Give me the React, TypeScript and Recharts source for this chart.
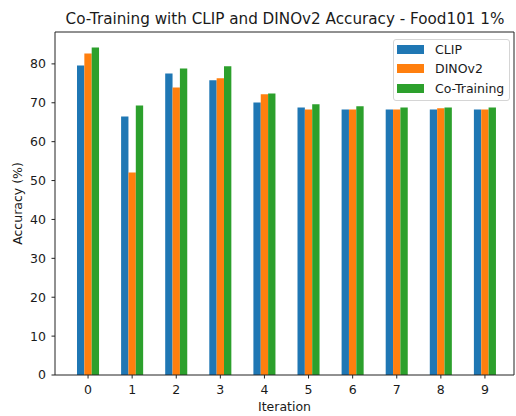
import React from 'react';
import { BarChart, Bar, XAxis, YAxis, Legend } from 'recharts';

const iterations = ['0', '1', '2', '3', '4', '5', '6', '7', '8', '9'];
const clipAcc = [79.6, 66.5, 77.5, 75.8, 70.1, 68.8, 68.3, 68.3, 68.3, 68.3];
const dinoAcc = [82.7, 52.1, 73.9, 76.3, 72.2, 68.3, 68.3, 68.3, 68.6, 68.3];
const coAcc = [84.2, 69.3, 78.8, 79.4, 72.4, 69.6, 69.1, 68.8, 68.8, 68.8];
const yTicks = [0, 10, 20, 30, 40, 50, 60, 70, 80];

const seriesNames = ['CLIP', 'DINOv2', 'Co-Training'];
const seriesColors = ['#1f77b4', '#ff7f0e', '#2ca02c'];

const data = iterations.map((it, i) => ({
  iteration: it,
  CLIP: clipAcc[i],
  DINOv2: dinoAcc[i],
  'Co-Training': coAcc[i],
}));

const FONT = "'DejaVu Sans', sans-serif";
const TEXT = '#1a1a1a';
const AXIS = '#222';

const renderLegend = () => (
  <div
    style={{
      boxSizing: 'border-box',
      width: 117,
      height: 62,
      border: '1px solid #d5d5d5',
      borderRadius: 3,
      background: 'rgba(255,255,255,0.8)',
      fontFamily: FONT,
      fontSize: 12.5,
      color: TEXT,
      paddingTop: 0,
    }}
  >
    {seriesNames.map((n, i) => (
      <div key={n} style={{ height: 19.3, display: 'flex', alignItems: 'center' }}>
        <div style={{ marginLeft: 3, width: 27, height: 9, background: seriesColors[i] }} />
        <span style={{ marginLeft: 11, lineHeight: '19px' }}>{n}</span>
      </div>
    ))}
  </div>
);

export default function App() {
  return (
    <div style={{ position: 'absolute', left: 0, top: 0, width: 516, height: 416, background: '#fff' }}>
      <BarChart
        width={516}
        height={416}
        data={data}
        margin={{ top: 31, right: 1, bottom: 0, left: 0 }}
        barGap={0}
        barSize={7.35}
      >
        <XAxis
          dataKey="iteration"
          height={41}
          padding={{ left: 11, right: 7 }}
          tickSize={3.5}
          tickMargin={6.5}
          stroke={AXIS}
          tick={{ fill: TEXT, fontSize: 12.5, fontFamily: FONT }}
          tickLine={{ stroke: AXIS }}
          axisLine={{ stroke: AXIS, strokeWidth: 1 }}
          label={{ value: 'Iteration', position: 'insideBottom', offset: 5, fill: TEXT, fontSize: 12.5, fontFamily: FONT }}
        />
        <XAxis
          xAxisId="top"
          dataKey="iteration"
          orientation="top"
          height={1}
          tick={false}
          tickLine={false}
          stroke={AXIS}
          axisLine={{ stroke: AXIS, strokeWidth: 1 }}
        />
        <YAxis
          width={55}
          domain={[0, 88.2]}
          ticks={yTicks}
          allowDataOverflow
          tickSize={3.5}
          tickMargin={5.5}
          stroke={AXIS}
          tick={{ fill: TEXT, fontSize: 12.5, fontFamily: FONT }}
          tickLine={{ stroke: AXIS }}
          axisLine={{ stroke: AXIS, strokeWidth: 1 }}
          label={{ value: 'Accuracy (%)', angle: -90, position: 'center', dx: -9.5, fill: TEXT, fontSize: 12.5, fontFamily: FONT }}
        />
        <YAxis
          yAxisId="right"
          orientation="right"
          width={1}
          domain={[0, 88.2]}
          tick={false}
          tickLine={false}
          stroke={AXIS}
          axisLine={{ stroke: AXIS, strokeWidth: 1 }}
        />
        <Legend
          layout="horizontal"
          verticalAlign="middle"
          align="center"
          content={renderLegend}
          wrapperStyle={{ position: 'absolute', left: 393, top: 39, width: 117, height: 62 }}
        />
        {seriesNames.map((n, i) => (
          <Bar key={n} dataKey={n} fill={seriesColors[i]} isAnimationActive={false} />
        ))}
      </BarChart>
      <svg
        width={516}
        height={30}
        style={{ position: 'absolute', left: 0, top: 0, pointerEvents: 'none' }}
      >
        <text x={285} y={24} textAnchor="middle" fontFamily={FONT} fontSize={15.2} fill={TEXT}>
          Co-Training with CLIP and DINOv2 Accuracy - Food101 1%
        </text>
      </svg>
    </div>
  );
}
